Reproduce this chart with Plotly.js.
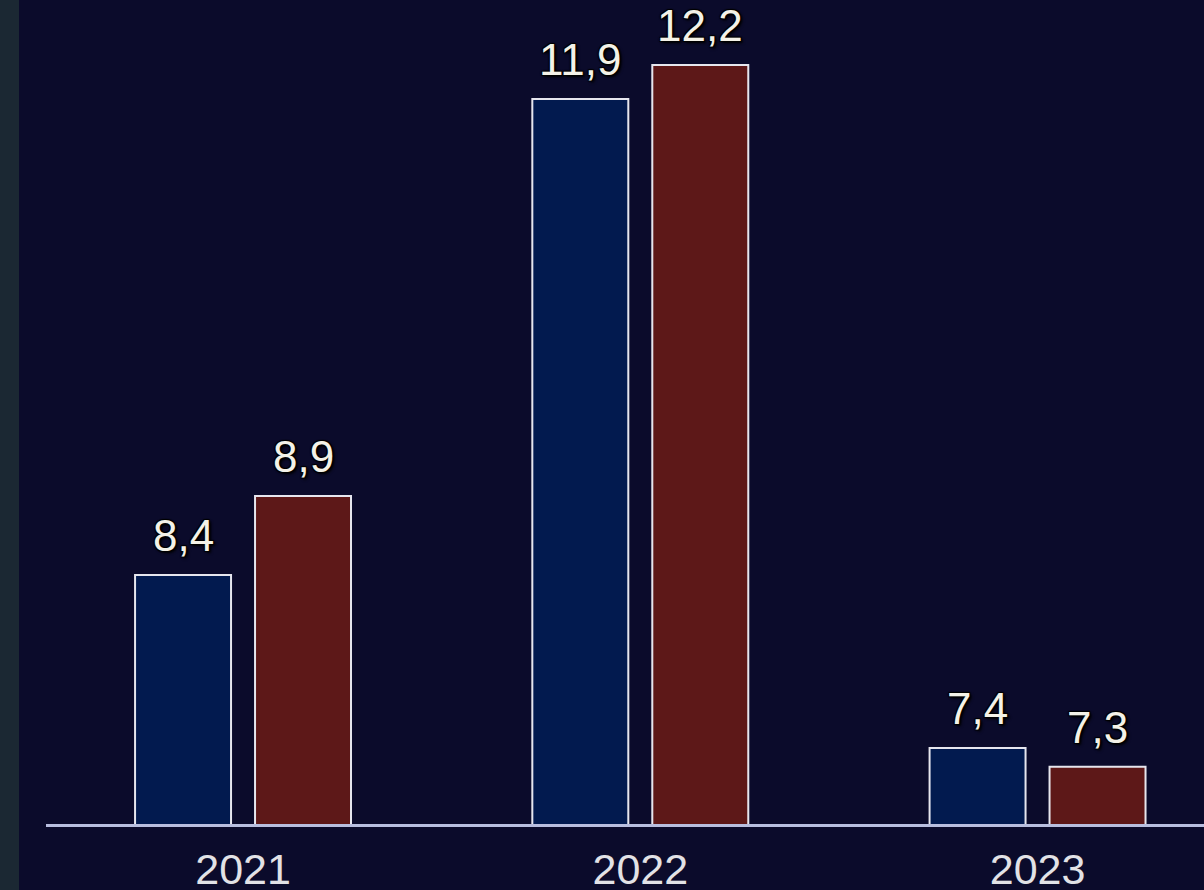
<!DOCTYPE html>
<html>
<head>
<meta charset="utf-8">
<script src="https://cdn.plot.ly/plotly-3.0.1.min.js"></script>
<style>
  html, body { margin: 0; padding: 0; background: #1b2833; overflow: hidden; }
  #chart { position: absolute; left: 19px; top: 0; width: 1185px; height: 890px; }
</style>
</head>
<body>
<div id="chart"></div>
<script>
const years = ['2021', '2022', '2023'];
const seriesA = [8.4, 11.9, 7.4];
const seriesB = [8.9, 12.2, 7.3];
const seriesNames = ['Serie 1', 'Serie 2'];
const colors = ['#021a4f', '#5d1818'];
const allSeries = [seriesA, seriesB];

const FONT = 'Liberation Sans, Arial, sans-serif';
const labelFont = {
  family: FONT,
  size: 44,
  color: '#f4f2e8',
  shadow: '-1px -1px 1px #000, 1px -1px 1px #000, -1px 1px 1px #000, 1px 1px 1px #000, 2px 2px 3px #000'
};

function makeTrace(vals, i) {
  return {
    type: 'bar',
    name: seriesNames[i],
    x: years,
    y: vals,
    marker: { color: colors[i], line: { color: '#e6e6ee', width: 2 } },
    hoverinfo: 'x+y'
  };
}

const data = allSeries.map(makeTrace);

// value labels placed at the bar tops through the axes (log axis -> log10 units,
// category axis -> category index)
const annotations = [];
allSeries.forEach((vals, i) => {
  vals.forEach((v, j) => {
    annotations.push({
      x: j,
      y: Math.log10(v),
      xref: 'x', yref: 'y',
      text: v.toFixed(1).replace('.', ','),
      showarrow: false,
      xanchor: 'center',
      yanchor: 'bottom',
      xshift: i === 0 ? -60 : 60,
      yshift: 13,
      font: labelFont
    });
  });
});

const layout = {
  width: 1185,
  height: 890,
  margin: { l: 27, r: 0, t: 0, b: 66, pad: 0 },
  paper_bgcolor: '#0b0b2b',
  plot_bgcolor: '#0b0b2b',
  separators: ', ',
  showlegend: false,
  barmode: 'group',
  bargap: 0.396,
  bargroupgap: 0.2,
  font: { family: FONT, color: '#e0e0e0' },
  annotations: annotations,
  xaxis: {
    type: 'category',
    range: [-0.496, 2.419],
    showline: true,
    linecolor: '#b8bedf',
    linewidth: 3,
    ticks: '',
    showgrid: false,
    zeroline: false,
    ticklabelstandoff: 5,
    tickfont: { size: 43, color: '#e2e2e6', family: FONT }
  },
  yaxis: {
    type: 'log',
    range: [Math.log10(7.0), 1.10704],
    showline: false,
    showticklabels: false,
    ticks: '',
    showgrid: false,
    zeroline: false
  }
};

Plotly.newPlot('chart', data, layout, { displayModeBar: false, staticPlot: true });
</script>
</body>
</html>
